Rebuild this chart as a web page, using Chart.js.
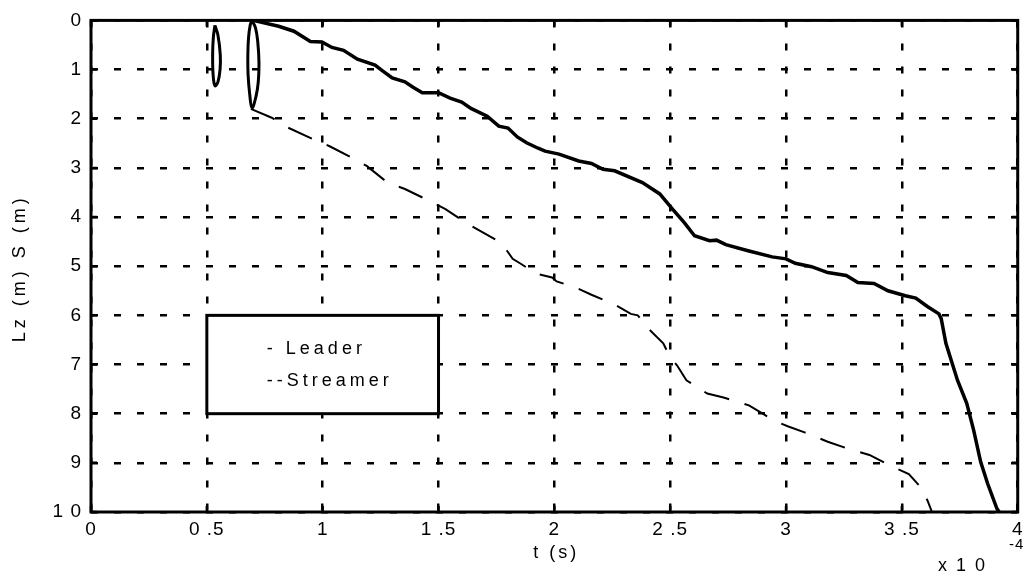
<!DOCTYPE html>
<html>
<head>
<meta charset="utf-8">
<script src="https://cdn.jsdelivr.net/npm/chart.js@4/dist/chart.umd.min.js"></script>
<style>
  html, body { margin: 0; padding: 0; background: #fff; }
  canvas { display: block; }
</style>
</head>
<body>
<canvas id="c" width="1029" height="579"></canvas>
<script>
// ---- data (t in units of 1e-4 s, depth in m) ----
const xTicks = [0, 0.5, 1, 1.5, 2, 2.5, 3, 3.5, 4];
const xTickLabels = ['0', '0 .5', '1', '1 .5', '2', '2 .5', '3', '3 .5', '4'];
const yTicks = [0, 1, 2, 3, 4, 5, 6, 7, 8, 9, 10];
const yTickLabels = ['0', '1', '2', '3', '4', '5', '6', '7', '8', '9', '1 0'];

const leaderT = [0.70, 0.81, 0.876, 0.947, 0.997, 1.04, 1.09, 1.15, 1.226, 1.26, 1.30, 1.355, 1.39, 1.43, 1.50, 1.55, 1.60, 1.64, 1.71, 1.76, 1.80, 1.84, 1.88, 1.93, 1.96, 2.02, 2.105, 2.16, 2.21, 2.26, 2.38, 2.455, 2.51, 2.56, 2.605, 2.67, 2.70, 2.74, 2.84, 2.94, 3.0, 3.04, 3.11, 3.18, 3.26, 3.31, 3.38, 3.44, 3.515, 3.56, 3.61, 3.66, 3.67, 3.69, 3.74, 3.78, 3.81, 3.84, 3.87, 3.91, 3.92];
const leaderZ = [0.0, 0.12, 0.22, 0.43, 0.44, 0.55, 0.61, 0.79, 0.91, 1.03, 1.17, 1.25, 1.36, 1.47, 1.47, 1.58, 1.66, 1.79, 1.95, 2.15, 2.19, 2.37, 2.49, 2.6, 2.66, 2.72, 2.86, 2.91, 3.03, 3.06, 3.30, 3.53, 3.84, 4.11, 4.38, 4.48, 4.47, 4.56, 4.69, 4.81, 4.85, 4.94, 5.01, 5.13, 5.19, 5.33, 5.35, 5.5, 5.6, 5.65, 5.82, 5.97, 6.07, 6.57, 7.32, 7.79, 8.34, 8.98, 9.42, 9.93, 10.0];

const streamerT = [0.69, 0.78, 0.85, 0.96, 1.03, 1.125, 1.19, 1.28, 1.355, 1.46, 1.53, 1.63, 1.755, 1.78, 1.82, 1.855, 1.92, 1.99, 2.01, 2.09, 2.16, 2.26, 2.33, 2.36, 2.41, 2.47, 2.50, 2.53, 2.57, 2.66, 2.73, 2.84, 2.91, 2.94, 3.01, 3.08, 3.18, 3.26, 3.36, 3.43, 3.53, 3.58, 3.61, 3.63];
const streamerS = [1.8, 1.98, 2.18, 2.42, 2.56, 2.79, 2.96, 3.3, 3.43, 3.67, 3.84, 4.15, 4.48, 4.58, 4.85, 4.95, 5.15, 5.23, 5.31, 5.43, 5.58, 5.78, 5.97, 6.0, 6.29, 6.57, 6.85, 7.02, 7.32, 7.59, 7.67, 7.83, 8.03, 8.13, 8.26, 8.38, 8.57, 8.7, 8.84, 9.01, 9.23, 9.49, 9.76, 10.0];

const loopBigT = [0.694, 0.71, 0.72, 0.725, 0.722, 0.712, 0.695, 0.685, 0.678, 0.677, 0.68, 0.687, 0.694];
const loopBigZ = [0.0, 0.15, 0.45, 0.85, 1.25, 1.55, 1.78, 1.5, 1.1, 0.7, 0.35, 0.1, 0.0];
const loopSmallT = [0.535, 0.548, 0.558, 0.557, 0.548, 0.535, 0.527, 0.525, 0.528, 0.535];
const loopSmallZ = [0.1, 0.3, 0.7, 1.0, 1.25, 1.33, 1.1, 0.7, 0.35, 0.1];

const legendLabels = ['- Leader', '--Streamer'];

const pts = (xs, ys) => xs.map((x, i) => ({ x: x, y: ys[i] }));

const FONT = "'Liberation Sans', Arial, sans-serif";

const decor = {
  id: 'decor',
  beforeDraw(chart) { chart.ctx.letterSpacing = '1px'; },
  afterDraw(chart) {
    const ctx = chart.ctx;
    const a = chart.chartArea;
    const xs = chart.scales.x, ys = chart.scales.y;
    ctx.save();
    ctx.letterSpacing = '0px';
    // frame
    ctx.strokeStyle = '#000';
    ctx.lineWidth = 3;
    ctx.setLineDash([]);
    ctx.strokeRect(a.left, a.top, a.right - a.left, a.bottom - a.top);
    // inward ticks
    ctx.lineWidth = 2.5;
    ctx.beginPath();
    xTicks.forEach(v => {
      const px = xs.getPixelForValue(v);
      ctx.moveTo(px, a.bottom); ctx.lineTo(px, a.bottom - 6);
      ctx.moveTo(px, a.top); ctx.lineTo(px, a.top + 6);
    });
    yTicks.forEach(v => {
      const py = ys.getPixelForValue(v);
      ctx.moveTo(a.left, py); ctx.lineTo(a.left + 6, py);
      ctx.moveTo(a.right, py); ctx.lineTo(a.right - 6, py);
    });
    ctx.stroke();

    ctx.fillStyle = '#000';
    ctx.textBaseline = 'middle';
    // y title
    ctx.save();
    ctx.font = '18px ' + FONT;
    ctx.letterSpacing = '4px';
    ctx.translate(20, (a.top + a.bottom) / 2 + 2);
    ctx.rotate(-Math.PI / 2);
    ctx.textAlign = 'center';
    ctx.fillText('Lz (m) S (m)', 0, 0);
    ctx.restore();
    // x title
    ctx.font = '18px ' + FONT;
    ctx.letterSpacing = '3px';
    ctx.textAlign = 'center';
    ctx.fillText('t (s)', (a.left + a.right) / 2 + 2, 553);
    // exponent
    ctx.textAlign = 'left';
    ctx.letterSpacing = '2px';
    ctx.font = '18px ' + FONT;
    ctx.fillText('x 1 0', 938, 566);
    ctx.font = '15px ' + FONT;
    ctx.letterSpacing = '1px';
    ctx.fillText('-4', 1009, 545);

    // legend box (aligned with grid cell t 0.5–1.5, depth 6–8)
    const lx0 = xs.getPixelForValue(0.5), lx1 = xs.getPixelForValue(1.5);
    const ly0 = ys.getPixelForValue(6), ly1 = ys.getPixelForValue(8);
    ctx.fillStyle = '#fff';
    ctx.fillRect(lx0, ly0, lx1 - lx0, ly1 - ly0);
    ctx.lineWidth = 3;
    ctx.strokeStyle = '#000';
    ctx.strokeRect(lx0, ly0, lx1 - lx0, ly1 - ly0);
    ctx.fillStyle = '#000';
    ctx.font = '18px ' + FONT;
    ctx.letterSpacing = '4px';
    ctx.textAlign = 'left';
    ctx.fillText(legendLabels[0], lx0 + 60, ly0 + 34);
    ctx.fillText(legendLabels[1], lx0 + 60, ly0 + 66);
    ctx.restore();
  }
};

const tickFont = { family: FONT, size: 19 };

new Chart(document.getElementById('c'), {
  type: 'scatter',
  data: {
    datasets: [
      { label: 'Leader', data: pts(leaderT, leaderZ), showLine: true, borderColor: '#000', borderWidth: 3.5, pointRadius: 0, tension: 0, fill: false },
      { label: 'Streamer', data: pts(streamerT, streamerS), showLine: true, borderColor: '#000', borderWidth: 2, borderDash: [26, 16], pointRadius: 0, tension: 0, fill: false },
      { label: 'Leader loop', data: pts(loopBigT, loopBigZ), showLine: true, borderColor: '#000', borderWidth: 3, pointRadius: 0, tension: 0.4, fill: false },
      { label: 'Leader loop 2', data: pts(loopSmallT, loopSmallZ), showLine: true, borderColor: '#000', borderWidth: 3, pointRadius: 0, tension: 0.4, fill: false }
    ]
  },
  options: {
    responsive: false,
    animation: false,
    devicePixelRatio: 1,
    layout: { padding: { left: 0, right: 6, top: 19, bottom: 0 } },
    plugins: { legend: { display: false }, tooltip: { enabled: false } },
    scales: {
      x: {
        type: 'linear', min: 0, max: 4,
        afterBuildTicks: s => { s.ticks = xTicks.map(v => ({ value: v })); },
        afterFit: s => { s.height = 67; },
        ticks: { callback: (v, i) => xTickLabels[i], font: tickFont, color: '#000', padding: 6, maxRotation: 0, autoSkip: false },
        grid: { color: '#000', lineWidth: 2.5, drawTicks: false },
        border: { display: false, dash: [7, 16] }
      },
      y: {
        type: 'linear', min: 0, max: 10, reverse: true,
        afterBuildTicks: s => { s.ticks = yTicks.map(v => ({ value: v })); },
        afterFit: s => { s.width = 91; },
        ticks: { callback: (v, i) => yTickLabels[i], font: tickFont, color: '#000', padding: 9, autoSkip: false },
        grid: { color: '#000', lineWidth: 2.5, drawTicks: false },
        border: { display: false, dash: [7, 16] }
      }
    }
  },
  plugins: [decor]
});
</script>
</body>
</html>
